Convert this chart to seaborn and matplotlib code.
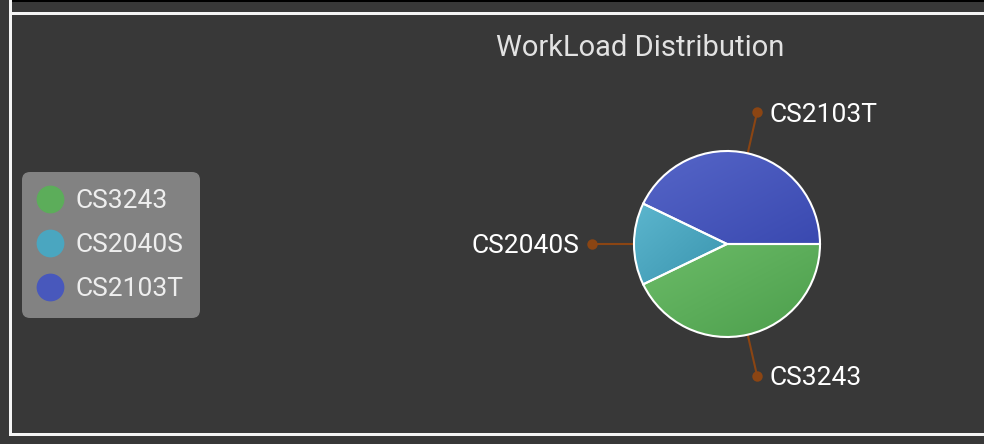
import numpy as np
import matplotlib.pyplot as plt
import seaborn as sns
from matplotlib.lines import Line2D
from matplotlib.patches import Rectangle
from matplotlib.colors import to_rgb

# data
modules = ['CS3243', 'CS2040S', 'CS2103T']
workload = [3, 1, 3]
colors = ['#5cad5a', '#4aa6c0', '#4858bc']
light = ['#6cbc68', '#5cb6ce', '#5666c8']
dark = ['#4c9e4c', '#3a94ae', '#3a49b0']

BG = '#383838'
LINE = '#8b4513'

sns.set_theme(style="dark", rc={"figure.facecolor": BG, "axes.facecolor": BG,
                                "savefig.facecolor": BG})
plt.rcParams['font.family'] = ['Roboto', 'DejaVu Sans']

W, H = 984, 444
fig = plt.figure(figsize=(W / 100, H / 100), dpi=100)

# frame around the panel (pixel coords)
bg = fig.add_axes([0, 0, 1, 1])
bg.set_xlim(0, W)
bg.set_ylim(H, 0)
bg.axis('off')
bg.add_patch(Rectangle((12, 0), W, 2.5, color='black', lw=0))
bg.add_patch(Rectangle((9, 0), 3, 436, color='#f4f4f4', lw=0))
bg.add_patch(Rectangle((12, 12), W, 3, color='#f4f4f4', lw=0))
bg.add_patch(Rectangle((9, 433), W, 3, color='#f4f4f4', lw=0))

fig.text(640 / W, (H - 56) / H, 'WorkLoad Distribution', ha='center', va='baseline',
         fontsize=21, color='#e2e2e2')

# pie: centre (727, 244) px, radius 93 px
R = 93
half = 200
ax = fig.add_axes([(727 - half) / W, (H - 244 - half) / H, 2 * half / W, 2 * half / H])
ax.patch.set_alpha(0)
wedges, _ = ax.pie(workload, colors=colors, startangle=0, counterclock=False,
                   wedgeprops=dict(edgecolor='white', linewidth=1.5))

n = 200
gy, gx = np.mgrid[0:n, 0:n] / (n - 1)
t = ((gx + gy) / 2)[..., None]
for w, lc, dc in zip(wedges, light, dark):
    ext = w.get_path().get_extents()
    img = (1 - t) * np.array(to_rgb(lc)) + t * np.array(to_rgb(dc))
    ax.imshow(img, extent=(ext.x0, ext.x1, ext.y0, ext.y1), origin='upper',
              clip_path=w, zorder=1, interpolation='bilinear')
    w.set_facecolor('none')
    w.set_zorder(2)

# leader lines + labels
r_out = 135 / R
for w, name in zip(wedges, modules):
    ang = np.deg2rad((w.theta1 + w.theta2) / 2)
    c, s = np.cos(ang), np.sin(ang)
    ax.plot([c, r_out * c], [s, r_out * s], color=LINE, lw=1.5, zorder=0.5,
            solid_capstyle='butt')
    ax.plot(r_out * c, r_out * s, 'o', color=LINE, ms=7.5, mew=0, zorder=3)
    right = c >= -0.1
    ax.annotate(name, xy=(r_out * c, r_out * s), xytext=(12 if right else -13, -9.5),
                textcoords='offset pixels', ha='left' if right else 'right',
                va='baseline', fontsize=19, color='white', annotation_clip=False)

ax.set_xlim(-half / R, half / R)
ax.set_ylim(-half / R, half / R)
ax.set_aspect('equal')
ax.axis('off')

# legend
handles = [Line2D([], [], marker='o', ls='none', ms=20, mew=0, color=col) for col in colors]
leg = fig.legend(handles, modules, loc='center left', bbox_to_anchor=(22 / W, (H - 245) / H),
                 borderaxespad=0, fontsize=19, frameon=True, fancybox=True, framealpha=1,
                 facecolor='#828282', edgecolor='none', borderpad=0.65,
                 handlelength=0.82, handletextpad=0.54, labelspacing=0.75,
                 labelcolor='#eeeeee')
leg.get_frame().set_boxstyle('round', pad=0, rounding_size=0.3)

fig.savefig('out.png', dpi=100, facecolor=BG)
